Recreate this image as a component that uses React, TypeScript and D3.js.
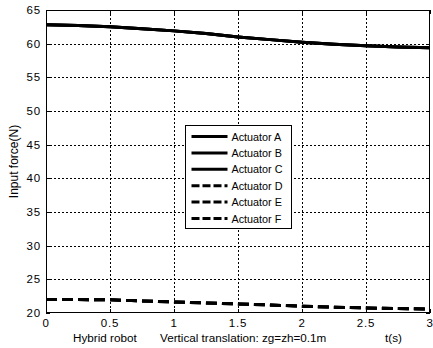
import { useEffect, useRef } from 'react';
import * as d3 from 'd3';

// ─── Data ───────────────────────────────────────────────────

const TIMES = [0, 0.25, 0.5, 0.75, 1, 1.25, 1.5, 1.75, 2, 2.25, 2.5, 2.75, 3];
// Actuators A, B, C overlap (solid)
const SOLID_FORCE = [62.8, 62.7, 62.5, 62.2, 61.9, 61.5, 61.0, 60.6, 60.2, 59.9, 59.7, 59.5, 59.4];
// Actuators D, E, F overlap (dashed)
const DASHED_FORCE = [22.0, 22.0, 21.95, 21.8, 21.65, 21.5, 21.35, 21.2, 21.0, 20.85, 20.75, 20.65, 20.6];

const SERIES = [
  { name: 'Actuator A', values: SOLID_FORCE, dashed: false },
  { name: 'Actuator B', values: SOLID_FORCE, dashed: false },
  { name: 'Actuator C', values: SOLID_FORCE, dashed: false },
  { name: 'Actuator D', values: DASHED_FORCE, dashed: true },
  { name: 'Actuator E', values: DASHED_FORCE, dashed: true },
  { name: 'Actuator F', values: DASHED_FORCE, dashed: true },
];

const X_TICKS = [0, 0.5, 1, 1.5, 2, 2.5, 3];
const Y_TICKS = [20, 25, 30, 35, 40, 45, 50, 55, 60, 65];

// ─── Layout ─────────────────────────────────────────────────

const W = 433;
const H = 348;
const MARGIN = { top: 10, right: 3, bottom: 35, left: 46 };
const FONT = 'Arial, "Liberation Sans", Helvetica, sans-serif';
const DASH = '11 5';

export default function App() {
  const svgRef = useRef<SVGSVGElement>(null);

  useEffect(() => {
    if (!svgRef.current) return;
    const svg = d3.select(svgRef.current);
    svg.selectAll('*').remove();

    const innerW = W - MARGIN.left - MARGIN.right;
    const innerH = H - MARGIN.top - MARGIN.bottom;

    const x = d3.scaleLinear().domain([0, 3]).range([0, innerW]);
    const y = d3.scaleLinear().domain([20, 65]).range([innerH, 0]);

    const g = svg.append('g').attr('transform', `translate(${MARGIN.left},${MARGIN.top})`);

    g.append('rect')
      .attr('width', innerW).attr('height', innerH)
      .attr('fill', '#fff');

    // Dotted grid
    g.append('g').selectAll('line')
      .data(X_TICKS.slice(1, -1))
      .join('line')
      .attr('x1', (d) => Math.round(x(d)) + 0.5).attr('x2', (d) => Math.round(x(d)) + 0.5)
      .attr('y1', 0).attr('y2', innerH)
      .attr('stroke', '#000').attr('stroke-width', 1)
      .attr('stroke-dasharray', '2 2');

    g.append('g').selectAll('line')
      .data(Y_TICKS.slice(1, -1))
      .join('line')
      .attr('x1', 0).attr('x2', innerW)
      .attr('y1', (d) => Math.round(y(d)) + 0.5).attr('y2', (d) => Math.round(y(d)) + 0.5)
      .attr('stroke', '#000').attr('stroke-width', 1)
      .attr('stroke-dasharray', '2 2');

    // Lines
    const lineGen = d3.line<number>()
      .x((_, i) => x(TIMES[i]))
      .y((d) => y(d));

    SERIES.forEach((s) => {
      g.append('path').datum(s.values)
        .attr('fill', 'none')
        .attr('stroke', '#000')
        .attr('stroke-width', 3)
        .attr('stroke-dasharray', s.dashed ? DASH : null)
        .attr('d', lineGen);
    });

    // Box with inward ticks
    g.append('rect')
      .attr('x', 0.5).attr('y', 0.5)
      .attr('width', innerW - 1).attr('height', innerH - 1)
      .attr('fill', 'none').attr('stroke', '#000');

    const tickLen = 4;
    X_TICKS.forEach((t) => {
      const px = Math.round(x(t)) + 0.5;
      g.append('line').attr('x1', px).attr('x2', px).attr('y1', innerH).attr('y2', innerH - tickLen).attr('stroke', '#000');
      g.append('line').attr('x1', px).attr('x2', px).attr('y1', 0).attr('y2', tickLen).attr('stroke', '#000');
      g.append('text')
        .attr('x', x(t)).attr('y', innerH + 14)
        .attr('text-anchor', 'middle')
        .attr('font-family', FONT).attr('font-size', 11.5)
        .attr('letter-spacing', 0.8)
        .text(String(t));
    });
    Y_TICKS.forEach((t) => {
      const py = Math.round(y(t)) + 0.5;
      g.append('line').attr('x1', 0).attr('x2', tickLen).attr('y1', py).attr('y2', py).attr('stroke', '#000');
      g.append('line').attr('x1', innerW).attr('x2', innerW - tickLen).attr('y1', py).attr('y2', py).attr('stroke', '#000');
      g.append('text')
        .attr('x', -5).attr('y', y(t) + 4)
        .attr('text-anchor', 'end')
        .attr('font-family', FONT).attr('font-size', 11.5)
        .attr('letter-spacing', 0.8)
        .text(String(t));
    });

    // Axis labels
    svg.append('text')
      .attr('transform', `translate(18,${MARGIN.top + innerH / 2}) rotate(-90)`)
      .attr('text-anchor', 'middle')
      .attr('font-family', FONT).attr('font-size', 12)
      .text('Input force(N)');

    svg.append('text')
      .attr('x', 73).attr('y', 342)
      .attr('font-family', FONT).attr('font-size', 11.7)
      .text('Hybrid robot');
    svg.append('text')
      .attr('x', 160).attr('y', 342)
      .attr('font-family', FONT).attr('font-size', 11.7)
      .text('Vertical translation: zg=zh=0.1m');
    svg.append('text')
      .attr('x', 385).attr('y', 342)
      .attr('font-family', FONT).attr('font-size', 11.7)
      .text('t(s)');

    // Legend
    const legend = svg.append('g').attr('transform', 'translate(185.5,125.5)');
    legend.append('rect')
      .attr('width', 106).attr('height', 103)
      .attr('fill', '#fff').attr('stroke', '#000');
    SERIES.forEach((s, i) => {
      const ly = 11 + i * 16.4;
      legend.append('line')
        .attr('x1', 6).attr('x2', 42)
        .attr('y1', ly).attr('y2', ly)
        .attr('stroke', '#000').attr('stroke-width', 3)
        .attr('stroke-dasharray', s.dashed ? '8 3' : null);
      legend.append('text')
        .attr('x', 46).attr('y', ly + 4)
        .attr('font-family', FONT).attr('font-size', 10.8)
        .text(s.name);
    });
  }, []);

  return (
    <svg
      ref={svgRef}
      width={W}
      height={H}
      style={{ position: 'absolute', left: 0, top: 0, background: '#fff' }}
    />
  );
}
